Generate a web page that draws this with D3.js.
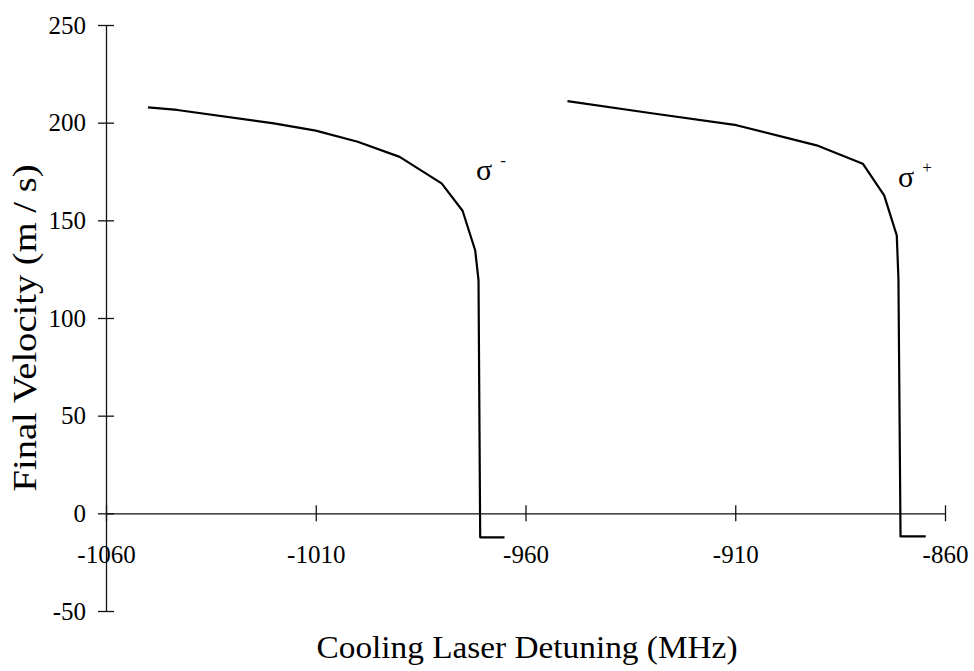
<!DOCTYPE html>
<html>
<head>
<meta charset="utf-8">
<script src="https://cdn.jsdelivr.net/npm/d3@7"></script>
<style>
  html, body { margin: 0; padding: 0; background: #fff; }
  svg { display: block; }
  text { font-family: "Liberation Serif", "Times New Roman", serif; fill: #000; }
</style>
</head>
<body>
<svg id="chart" width="974" height="671"></svg>
<script>
// Final velocity vs. cooling laser detuning for the two circular polarisations
const xTicks = [-1060, -1010, -960, -910, -860];
const yTicks = [-50, 0, 50, 100, 150, 200, 250];

// sigma-minus curve: detuning (MHz), final velocity (m/s)
const sigmaMinusX = [-1050, -1043, -1020, -1010, -1000, -990, -980, -975, -972, -971.2, -970.8, -965];
const sigmaMinusV = [207.8, 206.5, 199.6, 195.9, 190.2, 182.5, 168.9, 154.9, 134.7, 119.4, -12.3, -12.3];

// sigma-plus curve
const sigmaPlusX = [-950, -929.5, -909.7, -890.6, -879.6, -874.5, -871.5, -871.1, -870.6, -864.6];
const sigmaPlusV = [211.0, 204.7, 198.7, 188.4, 179.0, 162.8, 142.3, 120.1, -11.8, -11.8];

// curve labels, anchored in data units
const curveLabels = [
  { name: "σ", sup: "-", x: -971.8, v: 170.6 },
  { name: "σ", sup: "+", x: -871.2, v: 167.0 }
];

const svg = d3.select("#chart");
svg.append("rect").attr("width", 974).attr("height", 671).attr("fill", "#fff");

const x = d3.scaleLinear().domain([-1060, -860]).range([106, 945]);
const y = d3.scaleLinear().domain([-50, 250]).range([611, 25]);

// plain hyphen for negative numbers
const fmt = d => String(d);

// x axis drawn along v = 0
const gx = svg.append("g")
  .attr("transform", `translate(0,${y(0)})`)
  .call(d3.axisBottom(x).tickValues(xTicks).tickSizeInner(8).tickSizeOuter(0).tickPadding(24)
    .tickFormat(fmt));
gx.selectAll(".tick line").attr("y1", -8);
gx.selectAll("text").attr("font-size", 25).style("font-family", "'Liberation Serif', serif");

// y axis at the left end of the detuning range
const gy = svg.append("g")
  .attr("transform", `translate(${x(-1060)},0)`)
  .call(d3.axisLeft(y).tickValues(yTicks).tickSizeInner(8).tickSizeOuter(0).tickPadding(12)
    .tickFormat(fmt));
gy.selectAll(".tick line").attr("x1", 8);
gy.selectAll("text").attr("font-size", 25).style("font-family", "'Liberation Serif', serif");

svg.selectAll(".domain, .tick line").attr("stroke", "#111").attr("stroke-width", 1.3);

// curves
const line = d3.line().x(d => x(d[0])).y(d => y(d[1]));
const series = [
  d3.zip(sigmaMinusX, sigmaMinusV),
  d3.zip(sigmaPlusX, sigmaPlusV)
];
svg.selectAll("path.curve").data(series).join("path")
  .attr("class", "curve")
  .attr("d", line)
  .attr("fill", "none")
  .attr("stroke", "#000")
  .attr("stroke-width", 2.2)
  .attr("stroke-linejoin", "round");

// polarisation labels
curveLabels.forEach(l => {
  const t = svg.append("text")
    .attr("x", x(l.x))
    .attr("y", y(l.v))
    .attr("font-size", 30);
  t.append("tspan").text(l.name);
  t.append("tspan").attr("font-size", 17).attr("dx", 8).attr("dy", -14).text(l.sup);
});

// axis titles
svg.append("text")
  .attr("x", 527).attr("y", 658)
  .attr("text-anchor", "middle")
  .attr("font-size", 31)
  .attr("textLength", 421)
  .attr("lengthAdjust", "spacingAndGlyphs")
  .text("Cooling Laser Detuning (MHz)");

svg.append("text")
  .attr("transform", "translate(36,328) rotate(-90)")
  .attr("text-anchor", "middle")
  .attr("font-size", 33)
  .attr("textLength", 327)
  .attr("lengthAdjust", "spacingAndGlyphs")
  .text("Final Velocity (m / s)");
</script>
</body>
</html>
